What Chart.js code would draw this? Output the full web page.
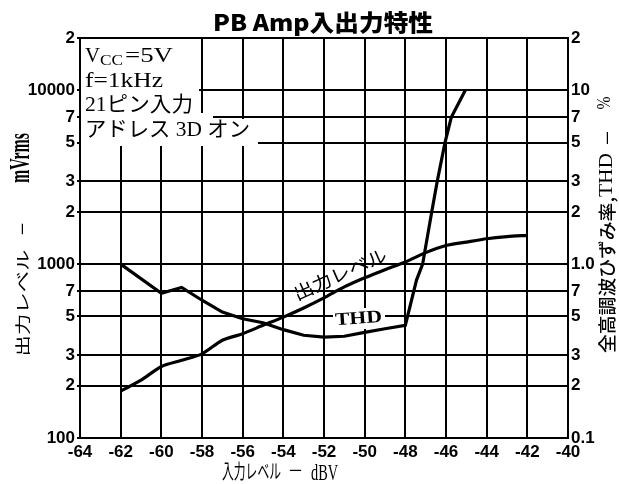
<!DOCTYPE html>
<html>
<head>
<meta charset="utf-8">
<script src="https://cdn.jsdelivr.net/npm/chart.js@4/dist/chart.umd.min.js"></script>
<style>
  html, body { margin: 0; padding: 0; background: #fff; }
  #wrap { width: 619px; height: 484px; }
</style>
</head>
<body>
<div id="wrap"><canvas id="c" width="619" height="484"></canvas></div>
<script>
// Input level axis (dBV)
const xTickValues = [-64, -62, -60, -58, -56, -54, -52, -50, -48, -46, -44, -42, -40];
const xTickLabels = ['-64', '-62', '-60', '-58', '-56', '-54', '-52', '-50', '-48', '-46', '-44', '-42', '-40'];

// Output level axis (mVrms, log)
const leftTickValues = [100, 200, 300, 500, 700, 1000, 2000, 3000, 5000, 7000, 10000, 20000];
const leftTickLabels = ['100', '2', '3', '5', '7', '1000', '2', '3', '5', '7', '10000', '2'];

// THD axis (%, log)
const rightTickValues = [0.1, 0.2, 0.3, 0.5, 0.7, 1, 2, 3, 5, 7, 10, 20];
const rightTickLabels = ['0.1', '2', '3', '5', '7', '1.0', '2', '3', '5', '7', '10', '2'];

// Output level vs input level
const outInput = [-62, -61, -60, -59, -58, -57, -56, -55, -54, -53, -52, -51, -50, -49, -48, -47, -46, -45, -44, -43, -42];
const outLevel = [186, 215, 258, 280, 305, 365, 398, 445, 496, 560, 640, 740, 835, 930, 1030, 1165, 1280, 1340, 1400, 1440, 1465];

// Total harmonic distortion vs input level
const thdInput = [-62, -60, -59, -58, -57, -56, -55, -54, -53, -52, -51, -50, -49, -48, -47.45, -47.15, -46.7, -46.43, -46.05, -45.74, -45.05];
const thdPercent = [1.0, 0.68, 0.735, 0.62, 0.53, 0.485, 0.46, 0.42, 0.39, 0.38, 0.385, 0.405, 0.425, 0.445, 0.81, 1.0, 2.0, 3.0, 5.0, 7.0, 10];

const SERIF = '"Liberation Serif", "Noto Sans CJK JP"';
const SANS = '"Noto Sans CJK JP", "Noto Sans"';

// Draw text stretched to span x0..x1, anchored at y
function fitText(ctx, text, font, x0, x1, y, baseline) {
  ctx.save();
  ctx.font = font;
  ctx.textBaseline = baseline || 'alphabetic';
  ctx.textAlign = 'left';
  const w = ctx.measureText(text).width;
  ctx.translate(x0, y);
  ctx.scale((x1 - x0) / w, 1);
  ctx.fillText(text, 0, 0);
  ctx.restore();
}

// Draw text centred on (cx, cy), rotated, stretched to the given length
function fitCentered(ctx, text, font, cx, cy, len, angle, thick) {
  ctx.save();
  ctx.font = font;
  ctx.textBaseline = 'middle';
  ctx.textAlign = 'center';
  const w = ctx.measureText(text).width;
  ctx.translate(cx, cy);
  ctx.rotate(angle || 0);
  ctx.scale(len / w, thick || 1);
  ctx.fillText(text, 0, 0);
  ctx.restore();
}

const decorations = {
  id: 'decorations',
  beforeDatasetsDraw(chart) {
    const ctx = chart.ctx;
    ctx.save();
    ctx.fillStyle = '#fff';
    // condition box in the upper-left corner
    ctx.beginPath();
    ctx.moveTo(81, 39);
    ctx.lineTo(199, 39);
    ctx.lineTo(199, 113);
    ctx.lineTo(213, 113);
    ctx.lineTo(213, 119);
    ctx.lineTo(258, 119);
    ctx.lineTo(258, 146);
    ctx.lineTo(81, 146);
    ctx.closePath();
    ctx.fill();
    // gap behind the THD label
    ctx.fillRect(333, 308, 52, 21);
    ctx.restore();
  },
  afterDatasetsDraw(chart) {
    const ctx = chart.ctx;
    ctx.save();
    ctx.fillStyle = '#000';
    // curve labels
    fitCentered(ctx, '出力レベル', '18px ' + SANS, 340, 274, 100, -24.3 * Math.PI / 180);
    fitCentered(ctx, 'THD', 'bold 18px ' + SERIF, 358.5, 319, 47, -4 * Math.PI / 180);

    // conditions
    fitText(ctx, 'V', '22px ' + SERIF, 85, 100, 62);
    fitText(ctx, 'CC', '15px ' + SERIF, 100, 123, 65);
    fitText(ctx, '=5V', '22px ' + SERIF, 125, 173, 62);
    fitText(ctx, 'f=1kHz', '22px ' + SERIF, 85, 163, 87);
    fitText(ctx, '21ピン入力', '21px ' + SERIF, 85, 193, 111);
    fitText(ctx, 'アドレス 3D オン', '21px ' + SERIF, 85, 250, 136);
    ctx.restore();
  },
  afterDraw(chart) {
    const ctx = chart.ctx;
    ctx.save();
    ctx.fillStyle = '#000';
    // title
    fitText(ctx, 'PB Amp入出力特性', '900 23px ' + SANS, 213, 433, 31);
    // x-axis title
    fitText(ctx, '入力レベル', '20px ' + SANS, 222, 281, 479);
    fitText(ctx, '−', '18px ' + SANS, 289, 302, 477);
    fitText(ctx, 'dBV', '24px ' + SERIF, 311, 338, 480);
    // left axis title (reads bottom to top)
    const up = -Math.PI / 2;
    fitCentered(ctx, '出力レベル', '19px ' + SANS, 22, 303, 107, up, 0.8);
    fitCentered(ctx, '−', '18px ' + SANS, 22, 229, 12, up);
    fitCentered(ctx, 'mVrms', 'bold 20px ' + SERIF, 22, 158, 50, up, 1.45);
    // right axis title (reads bottom to top)
    fitCentered(ctx, '全高調波ひずみ率,', '500 18px ' + SANS, 607, 275, 156, up);
    fitCentered(ctx, 'THD', '19px ' + SERIF, 607, 175, 44, up);
    fitCentered(ctx, '−', '18px ' + SANS, 607, 138, 14, up);
    fitCentered(ctx, '%', '18px ' + SERIF, 605, 103, 13, up);
    ctx.restore();
  }
};

const tickFont = { family: '"Liberation Sans", "DejaVu Sans"', size: 17, weight: 'bold' };

new Chart(document.getElementById('c'), {
  type: 'line',
  data: {
    datasets: [
      {
        label: '出力レベル',
        data: outInput.map((x, i) => ({ x: x, y: outLevel[i] })),
        yAxisID: 'y',
        borderColor: '#000',
        borderWidth: 3.2,
        pointRadius: 0,
        tension: 0.25,
        fill: false
      },
      {
        label: 'THD',
        data: thdInput.map((x, i) => ({ x: x, y: thdPercent[i] })),
        yAxisID: 'y2',
        borderColor: '#000',
        borderWidth: 3.2,
        pointRadius: 0,
        tension: 0,
        fill: false
      }
    ]
  },
  options: {
    responsive: false,
    animation: false,
    devicePixelRatio: 1,
    layout: { padding: { top: 38, left: 0, right: 0, bottom: 0 } },
    plugins: { legend: { display: false }, title: { display: false }, tooltip: { enabled: false } },
    scales: {
      x: {
        type: 'linear',
        position: 'bottom',
        min: -64,
        max: -40,
        afterBuildTicks: s => { s.ticks = xTickValues.map(v => ({ value: v })); },
        afterFit: s => { s.height = 46; },
        ticks: {
          autoSkip: false,
          maxRotation: 0,
          padding: 4,
          color: '#000',
          font: tickFont,
          callback: (v, i) => xTickLabels[i]
        },
        grid: { color: '#000', lineWidth: 2, drawTicks: false },
        border: { color: '#000', width: 2 }
      },
      y: {
        type: 'logarithmic',
        position: 'left',
        min: 100,
        max: 20000,
        afterBuildTicks: s => { s.ticks = leftTickValues.map(v => ({ value: v })); },
        afterFit: s => { s.width = 80; },
        ticks: {
          autoSkip: false,
          padding: 2,
          color: '#000',
          font: tickFont,
          callback: (v, i) => leftTickLabels[i]
        },
        grid: { color: '#000', lineWidth: 2, tickLength: 3 },
        border: { color: '#000', width: 2 }
      },
      y2: {
        type: 'logarithmic',
        position: 'right',
        min: 0.1,
        max: 20,
        afterBuildTicks: s => { s.ticks = rightTickValues.map(v => ({ value: v })); },
        afterFit: s => { s.width = 51; },
        ticks: {
          autoSkip: false,
          padding: 3,
          color: '#000',
          font: tickFont,
          callback: (v, i) => rightTickLabels[i]
        },
        grid: { display: false, drawTicks: false },
        border: { color: '#000', width: 2 }
      }
    }
  },
  plugins: [decorations]
});
</script>
</body>
</html>
